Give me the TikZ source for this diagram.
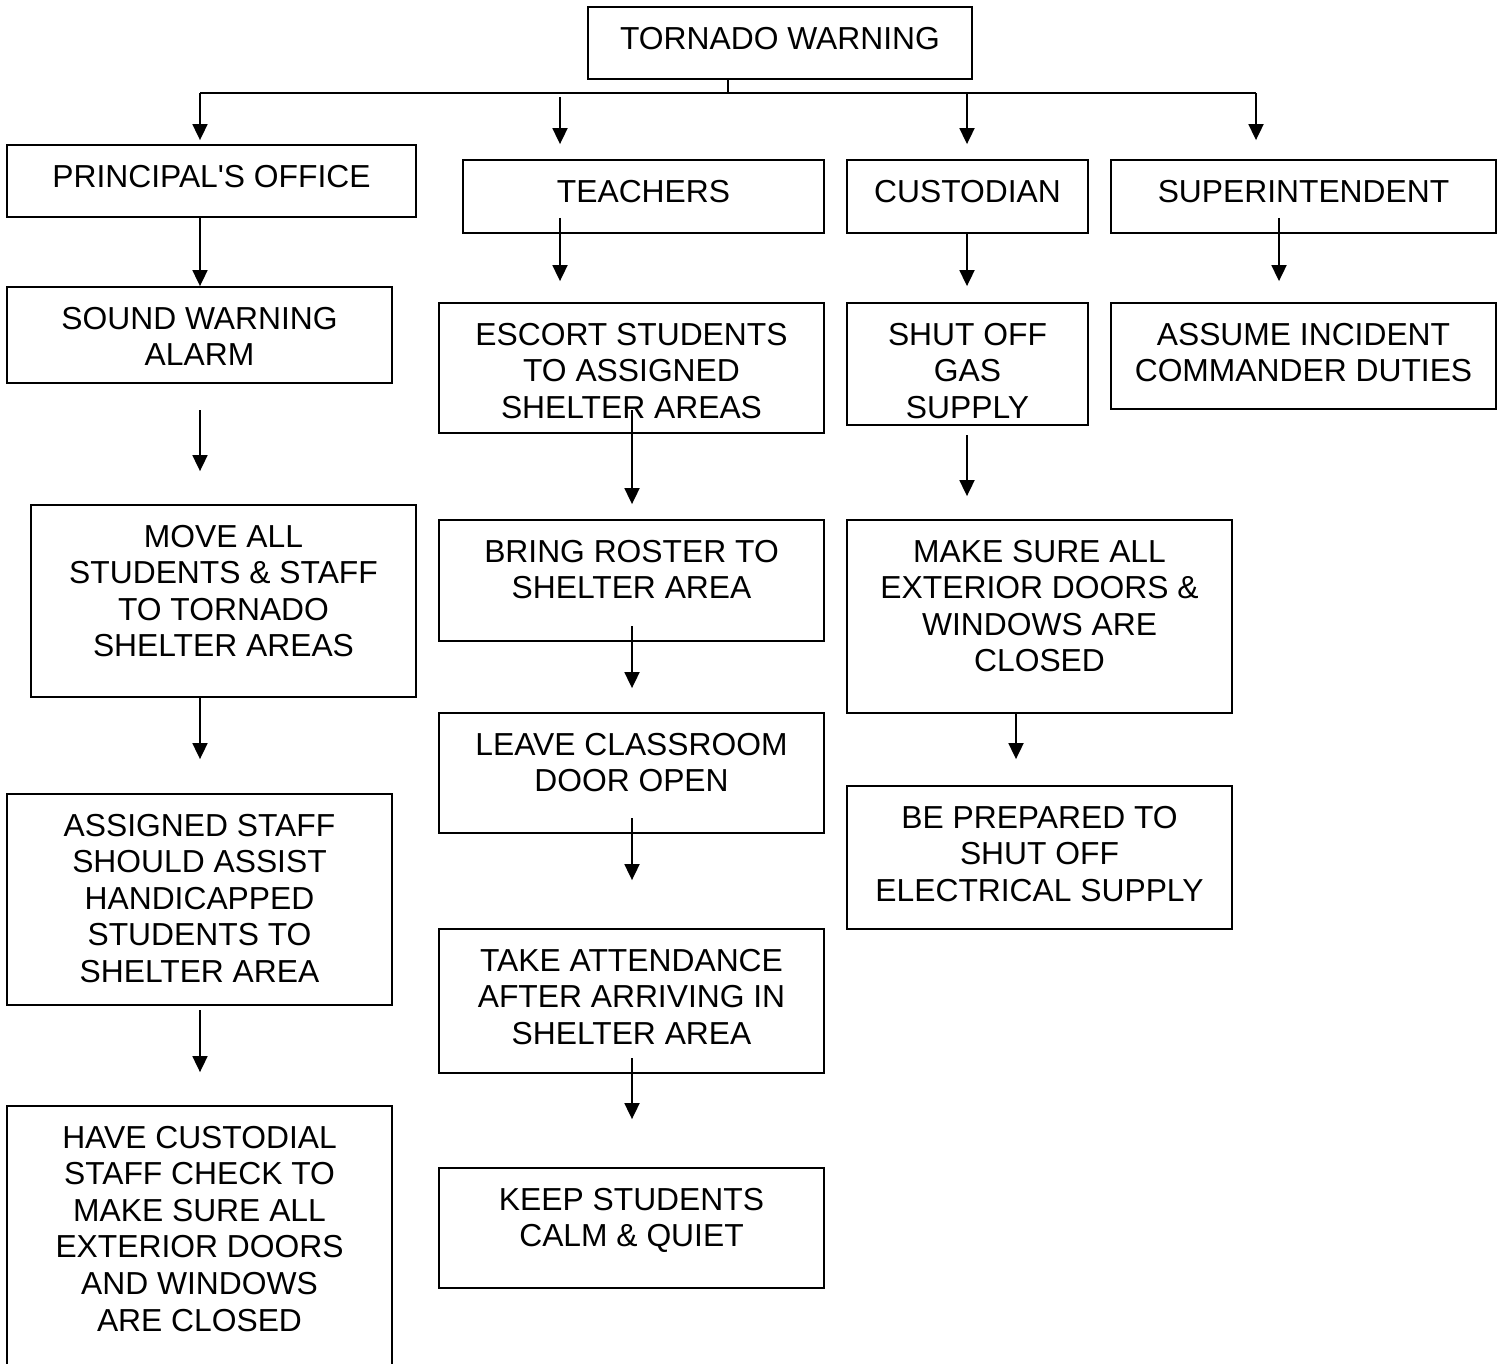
\documentclass[tikz,border=0pt]{standalone}
\usepackage{fontspec}
\setmainfont{Liberation Sans}
\usetikzlibrary{arrows.meta}

\begin{document}
\begin{tikzpicture}[x=1pt,y=-1pt,
  box/.style={draw, line width=1.8pt, inner sep=0pt},
  txt/.style={anchor=north, align=center, inner sep=0pt,
    font=\fontsize{31.8}{36.6}\selectfont},
  wire/.style={line width=1.8pt},
  arr/.style={line width=1.8pt, -{Triangle[length=16pt,width=15pt]}}]

% page frame
\clip (0,0) rectangle (1504,1364);
\fill[white] (0,0) rectangle (1504,1364);

% ---- boxes: centre, width, height ----
\node[box, minimum width=384pt, minimum height=72pt]  (tw)     at (780,43)     {};
\node[box, minimum width=409pt, minimum height=72pt]  (po)     at (211.5,181)  {};
\node[box, minimum width=361pt, minimum height=73pt]  (tea)    at (643.5,196.5){};
\node[box, minimum width=241pt, minimum height=73pt]  (cus)    at (967.5,196.5){};
\node[box, minimum width=385pt, minimum height=73pt]  (sup)    at (1303.5,196.5){};
\node[box, minimum width=385pt, minimum height=96pt]  (sound)  at (199.5,335)  {};
\node[box, minimum width=385pt, minimum height=130pt] (escort) at (631.5,368)  {};
\node[box, minimum width=241pt, minimum height=122pt] (gas)    at (967.5,364)  {};
\node[box, minimum width=385pt, minimum height=106pt] (assume) at (1303.5,356) {};
\node[box, minimum width=385pt, minimum height=192pt] (move)   at (223.5,601)  {};
\node[box, minimum width=385pt, minimum height=121pt] (roster) at (631.5,580.5){};
\node[box, minimum width=385pt, minimum height=193pt] (doors)  at (1039.5,616.5){};
\node[box, minimum width=385pt, minimum height=120pt] (leave)  at (631.5,773)  {};
\node[box, minimum width=385pt, minimum height=143pt] (elec)   at (1039.5,857.5){};
\node[box, minimum width=385pt, minimum height=211pt] (staff)  at (199.5,899.5){};
\node[box, minimum width=385pt, minimum height=144pt] (attend) at (631.5,1001) {};
\node[box, minimum width=385pt, minimum height=290pt] (check)  at (199.5,1251) {};
\node[box, minimum width=385pt, minimum height=120pt] (keep)   at (631.5,1228) {};

% ---- texts, hung from the top edge of each box ----
\tikzset{hang/.style={yshift=-20.5pt}}
\node[txt] (tw-t)     at ([hang]tw.north)     {TORNADO WARNING};
\node[txt] (po-t)     at ([hang]po.north)     {PRINCIPAL\textquotesingle S OFFICE};
\node[txt] (tea-t)    at ([hang]tea.north)    {TEACHERS};
\node[txt] (cus-t)    at ([hang]cus.north)    {CUSTODIAN};
\node[txt] (sup-t)    at ([hang]sup.north)    {SUPERINTENDENT};
\node[txt] (sound-t)  at ([hang]sound.north)  {SOUND WARNING\\ALARM};
\node[txt] (escort-t) at ([hang]escort.north) {ESCORT STUDENTS\\TO ASSIGNED\\SHELTER AREAS};
\node[txt] (gas-t)    at ([hang]gas.north)    {SHUT OFF\\GAS\\SUPPLY};
\node[txt] (assume-t) at ([hang]assume.north) {ASSUME INCIDENT\\COMMANDER DUTIES};
\node[txt] (move-t)   at ([hang]move.north)   {MOVE ALL\\STUDENTS \& STAFF\\TO TORNADO\\SHELTER AREAS};
\node[txt] (roster-t) at ([hang]roster.north) {BRING ROSTER TO\\SHELTER AREA};
\node[txt] (doors-t)  at ([hang]doors.north)  {MAKE SURE ALL\\EXTERIOR DOORS \&\\WINDOWS ARE\\CLOSED};
\node[txt] (leave-t)  at ([hang]leave.north)  {LEAVE CLASSROOM\\DOOR OPEN};
\node[txt] (elec-t)   at ([hang]elec.north)   {BE PREPARED TO\\SHUT OFF\\ELECTRICAL SUPPLY};
\node[txt] (staff-t)  at ([hang]staff.north)  {ASSIGNED STAFF\\SHOULD ASSIST\\HANDICAPPED\\STUDENTS TO\\SHELTER AREA};
\node[txt] (attend-t) at ([hang]attend.north) {TAKE ATTENDANCE\\AFTER ARRIVING IN\\SHELTER AREA};
\node[txt] (check-t)  at ([hang]check.north)  {HAVE CUSTODIAL\\STAFF CHECK TO\\MAKE SURE ALL\\EXTERIOR DOORS\\AND WINDOWS\\ARE CLOSED};
\node[txt] (keep-t)   at ([hang]keep.north)   {KEEP STUDENTS\\CALM \& QUIET};

% ---- distribution bus under the top box ----
\coordinate (bus)  at (728,93);
\coordinate (busL) at (200,93);
\coordinate (busR) at (1256,93);
\coordinate (busC) at (967,93);
\draw[wire] (tw.south -| bus) -- (bus);
\draw[wire] (busL) -- (busR);

% ---- arrow ends that stop short of a box ----
\coordinate (tea-in)    at (560,97);
\coordinate (tea-out)   at (560,218);
\coordinate (sup-out)   at (1279,218);
\coordinate (sound-out) at (200,410);
\coordinate (escort-out) at (632,410);
\coordinate (gas-out)   at (967,435);
\coordinate (move-out)  at (200,697);
\coordinate (roster-out) at (632,626);
\coordinate (doors-out) at (1016,713);
\coordinate (leave-out) at (632,818);
\coordinate (staff-out) at (200,1010);
\coordinate (attend-out) at (632,1058);

% ---- arrows ----
\draw[arr, shorten >=4pt]  (busL) -- (busL |- po.north);
\draw[arr, shorten >=15pt] (tea-in) -- (tea-in |- tea.north);
\draw[arr, shorten >=15pt] (busC) -- (busC |- cus.north);
\draw[arr, shorten >=19pt] (busR) -- (busR |- sup.north);

\draw[arr] (po.south -| busL) -- (busL |- sound.north);
\draw[arr, shorten >=21pt] (tea-out) -- (tea-out |- escort.north);
\draw[arr, shorten >=16pt] (cus.south -| busC) -- (busC |- gas.north);
\draw[arr, shorten >=21pt] (sup-out) -- (sup-out |- assume.north);

\draw[arr, shorten >=33pt] (sound-out) -- (sound-out |- move.north);
\draw[arr, shorten >=15pt] (escort-out) -- (escort-out |- roster.north);
\draw[arr, shorten >=23pt] (gas-out) -- (gas-out |- doors.north);

\draw[arr, shorten >=34pt] (move-out) -- (move-out |- staff.north);
\draw[arr, shorten >=24pt] (roster-out) -- (roster-out |- leave.north);
\draw[arr, shorten >=26pt] (doors-out) -- (doors-out |- elec.north);

\draw[arr, shorten >=48pt] (leave-out) -- (leave-out |- attend.north);
\draw[arr, shorten >=33pt] (staff-out) -- (staff-out |- check.north);
\draw[arr, shorten >=48pt] (attend-out) -- (attend-out |- keep.north);

\end{tikzpicture}
\end{document}
